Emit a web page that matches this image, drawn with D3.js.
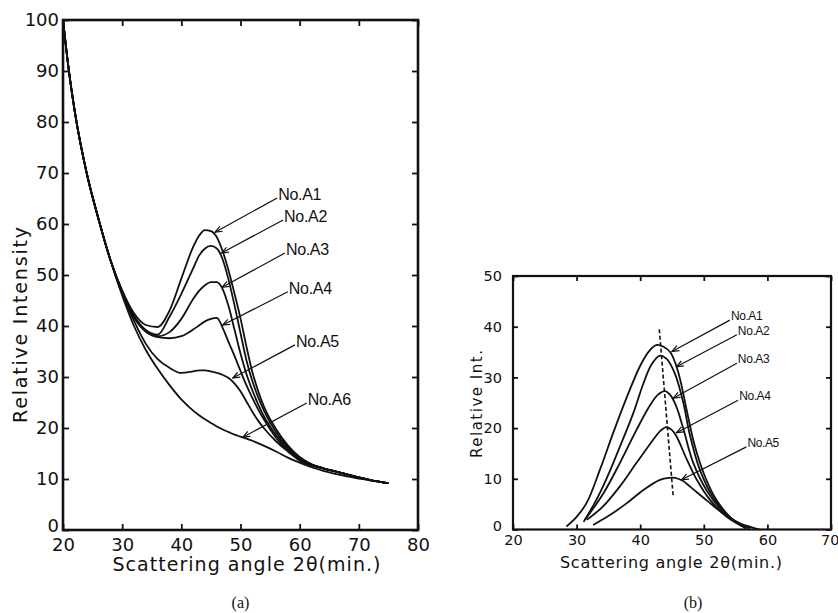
<!DOCTYPE html>
<html>
<head>
<meta charset="utf-8">
<script src="https://cdn.jsdelivr.net/npm/d3@7"></script>
<style>
  body { margin: 0; background: #fff; }
  svg { display: block; }
  text { fill: #111; }
</style>
</head>
<body>
<svg id="chart" width="838" height="613"></svg>
<script>
// ---- panel (a) data: relative intensity vs scattering angle ----
const angleA = [20,21,22,24,26,28,30,32,34,36,38,40,42,43,44,45,46,47,48,49,50,51,52,53,54,56,58,60,62,64,66,68,70,72,75];
const intA1 = [100,90,82,70,61,53,47,42.5,40.2,39.8,43,49.3,55.5,57.7,58.8,58.6,57.4,54.6,50.8,46.3,41.5,36,31,27.2,24.1,19.8,16.6,14.3,12.9,12.1,11.5,10.9,10.3,9.8,9.2];
const intA2 = [100,90,82,70,61,53,46.8,42,39.2,38.3,41.8,46.3,51.3,53.8,55.2,55.7,55.2,53,49,44,38.6,33.3,29.2,26,23.3,19.2,16.2,14.1,12.9,12.1,11.5,10.9,10.3,9.8,9.2];
const intA3 = [100,90,82,70,61,53,46.7,41.8,38.9,38,38.8,41.4,45.3,46.9,48,48.6,48.6,47.2,43.8,39.2,34.6,30.6,27.4,24.6,22.2,18.6,15.9,14,12.8,12.1,11.5,10.9,10.3,9.8,9.2];
const intA4 = [100,90,82,70,61,53,46.6,41.6,38.9,37.8,37.6,38,39.3,40.1,40.9,41.4,41.6,39.6,36.8,34.1,31.2,28.4,25.9,23.6,21.6,18.1,15.6,13.8,12.8,12.1,11.5,10.9,10.3,9.8,9.2];
const intA5 = [100,90,82,70,61,53,46.3,41,36.5,33.5,31.8,30.8,31.1,31.3,31.3,31.1,30.8,30.4,29.8,28.7,27.2,25.2,23.2,21.4,19.9,17.4,15.4,13.6,12.6,12,11.5,10.9,10.3,9.8,9.2];
const intA6 = [100,90,82,70,61,53,46,40,35.3,31.6,28.4,25.6,23.4,22.5,21.7,21,20.3,19.7,19.2,18.7,18.3,17.9,17.5,17,16.5,15.4,14.2,13.2,12.3,11.6,11,10.5,10.1,9.7,9.2];
const seriesA = [intA1, intA2, intA3, intA4, intA5, intA6];
const namesA = ["No.A1", "No.A2", "No.A3", "No.A4", "No.A5", "No.A6"];
// label anchor (start of leader) and arrow tip, in data units
const labelAtA = [[56.2,65.1],[57.2,60.8],[57.5,54.3],[58.0,46.7],[59.2,36.3],[61.2,24.9]];
const tipAtA = [[45.7,58.4],[46.8,54.3],[46.9,47.6],[47.0,40.2],[48.7,29.8],[50.4,18.2]];
const ticksXA = [20,30,40,50,60,70,80];
const ticksYA = [0,10,20,30,40,50,60,70,80,90,100];

// ---- panel (b) data: separated peaks ----
const peakB1 = [[28.4,0.6],[30,2.5],[31.6,5.3],[33.7,11.9],[35.8,19.2],[37.9,26.1],[40,32.3],[41.4,35.2],[42.6,36.4],[43.6,36.1],[44.7,35],[45.5,32.9],[46.3,29.5],[47.3,23.6],[48.6,16.4],[50.2,10.4],[52,5.8],[54.1,2.5],[55.6,1],[57.3,0.2]];
const peakB2 = [[31.1,1.5],[33,5.6],[34.7,10],[36.8,16.3],[38.9,22.9],[40.5,28.8],[41.8,32.6],[43.1,34.3],[44.2,33.6],[45.5,30.6],[46.8,24.9],[47.8,18.7],[49.4,11.7],[51.5,6.3],[54.1,2.4],[56.7,0.2]];
const peakB3 = [[31.3,1.9],[34.2,7.1],[36.8,13.1],[39.4,19.6],[41.5,24.4],[42.8,26.6],[43.9,27.3],[44.8,26.4],[45.7,24.2],[46.8,19.8],[48.3,13.3],[50.5,7.6],[53.1,3.4],[56.2,0.6]];
const peakB4 = [[31.6,1.9],[34.2,4.6],[36.8,8.5],[39.4,13.1],[42.1,17.8],[43.2,19.5],[44.1,20.2],[45,19.6],[45.7,18.4],[47.3,13.9],[48.9,9.8],[51,5.8],[53.6,2.5],[56.7,0.2]];
const peakB5 = [[32.6,0.9],[35.3,2.9],[37.9,5.2],[40.5,7.8],[43.1,9.8],[44.5,10.2],[45.5,10.2],[46.7,9.6],[47.8,8.5],[50.5,5.7],[53.1,3.1],[55.7,1.2],[58.8,0]];
const seriesB = [peakB1, peakB2, peakB3, peakB4, peakB5];
const peakShift = [[43.0,39.5],[45.2,6.3]];
const namesB = ["No.A1", "No.A2", "No.A3", "No.A4", "No.A5"];
const labelAtB = [[54.1,41.3],[55.2,38.4],[55.2,32.8],[55.4,25.5],[56.7,16.3]];
const tipAtB = [[45.0,35.1],[45.7,32.1],[45.2,25.9],[45.7,19.1],[46.5,9.8]];
const ticksXB = [20,30,40,50,60,70];
const ticksYB = [0,10,20,30,40,50];

const svg = d3.select("#chart");
const sans = "DejaVu Sans, sans-serif";

svg.append("defs").append("marker")
    .attr("id", "arrow")
    .attr("markerUnits", "userSpaceOnUse")
    .attr("viewBox", "-8 -4 9 8")
    .attr("markerWidth", 9).attr("markerHeight", 8)
    .attr("refX", 0).attr("refY", 0)
    .attr("orient", "auto")
    .append("path")
    .attr("d", "M-7,-2.8L0,0L-7,2.8")
    .attr("fill", "none").attr("stroke", "#111").attr("stroke-width", 1.2);

function panel(cfg) {
    const x = d3.scaleLinear().domain(cfg.xDomain).range([cfg.left, cfg.right]);
    const y = d3.scaleLinear().domain(cfg.yDomain).range([cfg.bottom, cfg.top]);
    const g = svg.append("g");

    // axes with inward ticks
    const bottom = g.append("g").attr("transform", `translate(0,${cfg.bottom})`)
        .call(d3.axisBottom(x).tickValues(cfg.xTicks).tickSize(-cfg.tick).tickPadding(cfg.xPad));
    const left = g.append("g").attr("transform", `translate(${cfg.left},0)`)
        .call(d3.axisLeft(y).tickValues(cfg.yTicks).tickSize(-cfg.tick).tickPadding(cfg.yPad));
    g.append("g").attr("transform", `translate(0,${cfg.top})`)
        .call(d3.axisTop(x).tickValues(cfg.xTicks).tickSize(-cfg.tick).tickFormat(""));
    g.append("g").attr("transform", `translate(${cfg.right},0)`)
        .call(d3.axisRight(y).tickValues(cfg.yTicks).tickSize(-cfg.tick).tickFormat(""));
    g.selectAll(".domain").remove();
    g.selectAll(".tick line").attr("stroke", "#111").attr("stroke-width", 1.8);
    g.selectAll(".tick text").attr("font-family", sans).attr("font-size", cfg.tickFont).attr("fill", "#111");
    // the zero label sits a little higher, clear of the first x label
    left.selectAll(".tick").filter(d => d === 0).select("text").attr("dy", "0.1em");

    g.append("rect")
        .attr("x", cfg.left).attr("y", cfg.top)
        .attr("width", cfg.right - cfg.left).attr("height", cfg.bottom - cfg.top)
        .attr("fill", "none").attr("stroke", "#111").attr("stroke-width", cfg.frame);

    // curves
    const line = d3.line().x(d => x(d[0])).y(d => y(d[1])).curve(cfg.curve);
    g.append("g").selectAll("path")
        .data(cfg.series)
        .join("path")
        .attr("d", line)
        .attr("fill", "none").attr("stroke", "#111").attr("stroke-width", 1.8);

    // labels with leader arrows
    g.append("g").selectAll("line")
        .data(cfg.names)
        .join("line")
        .attr("x1", (d, i) => x(cfg.labelAt[i][0]))
        .attr("y1", (d, i) => y(cfg.labelAt[i][1]))
        .attr("x2", (d, i) => x(cfg.tipAt[i][0]))
        .attr("y2", (d, i) => y(cfg.tipAt[i][1]))
        .attr("stroke", "#111").attr("stroke-width", 1.2)
        .attr("marker-end", "url(#arrow)");
    g.append("g").selectAll("text")
        .data(cfg.names)
        .join("text")
        .attr("x", (d, i) => x(cfg.labelAt[i][0]) + 1)
        .attr("y", (d, i) => y(cfg.labelAt[i][1]) + cfg.labelDy)
        .attr("font-family", "Liberation Sans, Arial, sans-serif")
        .attr("font-size", cfg.labelFont)
        .attr("letter-spacing", cfg.labelSpacing)
        .text(d => d);

    // axis titles
    g.append("text")
        .attr("x", (cfg.left + cfg.right) / 2 + cfg.xTitleShift).attr("y", cfg.xTitleY)
        .attr("text-anchor", "middle")
        .attr("font-family", sans).attr("font-size", cfg.titleFont)
        .attr("textLength", cfg.xTitleLen).attr("lengthAdjust", "spacing")
        .text("Scattering angle 2θ(min.)");
    g.append("text")
        .attr("transform", `translate(${cfg.yTitleX},${cfg.yTitleMid}) rotate(-90)`)
        .attr("text-anchor", "middle")
        .attr("font-family", sans).attr("font-size", cfg.yTitleFont)
        .attr("textLength", cfg.yTitleLen).attr("lengthAdjust", "spacing")
        .text(cfg.yTitle);
    g.append("text")
        .attr("x", (cfg.left + cfg.right) / 2 + cfg.captionShift).attr("y", 608)
        .attr("text-anchor", "middle")
        .attr("font-family", "Liberation Serif, serif").attr("font-size", 16)
        .text(cfg.caption);

    return { g, x, y, bottom };
}

panel({
    xDomain: [20, 80], yDomain: [0, 100],
    left: 63, right: 418, top: 20, bottom: 530,
    xTicks: ticksXA, yTicks: ticksYA, tick: 6, xPad: 8, yPad: 4,
    tickFont: 18, frame: 2.6, curve: d3.curveMonotoneX,
    series: seriesA.map(s => s.map((v, i) => [angleA[i], v])),
    names: namesA, labelAt: labelAtA, tipAt: tipAtA,
    labelDy: 2, labelFont: 16, labelSpacing: -0.3,
    titleFont: 19, xTitleY: 571, xTitleLen: 268, xTitleShift: 6,
    yTitle: "Relative Intensity", yTitleFont: 19, yTitleX: 27, yTitleMid: 325, yTitleLen: 196,
    caption: "(a)", captionShift: 0
});

const pb = panel({
    xDomain: [20, 70], yDomain: [0, 50],
    left: 513, right: 831, top: 276, bottom: 529.5,
    xTicks: ticksXB, yTicks: ticksYB, tick: 5, xPad: 5, yPad: 11,
    tickFont: 14.5, frame: 2.2, curve: d3.curveCatmullRom.alpha(0.5),
    series: seriesB,
    names: namesB, labelAt: labelAtB, tipAt: tipAtB,
    labelDy: 0, labelFont: 12, labelSpacing: -0.4,
    titleFont: 16, xTitleY: 568, xTitleLen: 222, xTitleShift: -1,
    yTitle: "Relative Int.", yTitleFont: 15, yTitleX: 482, yTitleMid: 404, yTitleLen: 108,
    caption: "(b)", captionShift: 21
});

// the last x label is pulled in so it stays inside the page
pb.bottom.selectAll(".tick").filter(d => d === 70).select("text")
    .attr("text-anchor", "end").attr("dx", "0.55em");

// dashed line through the peak maxima
pb.g.append("path")
    .attr("d", d3.line().x(d => pb.x(d[0])).y(d => pb.y(d[1]))(peakShift))
    .attr("fill", "none").attr("stroke", "#111").attr("stroke-width", 1.6)
    .attr("stroke-dasharray", "4,2.5");
</script>
</body>
</html>
